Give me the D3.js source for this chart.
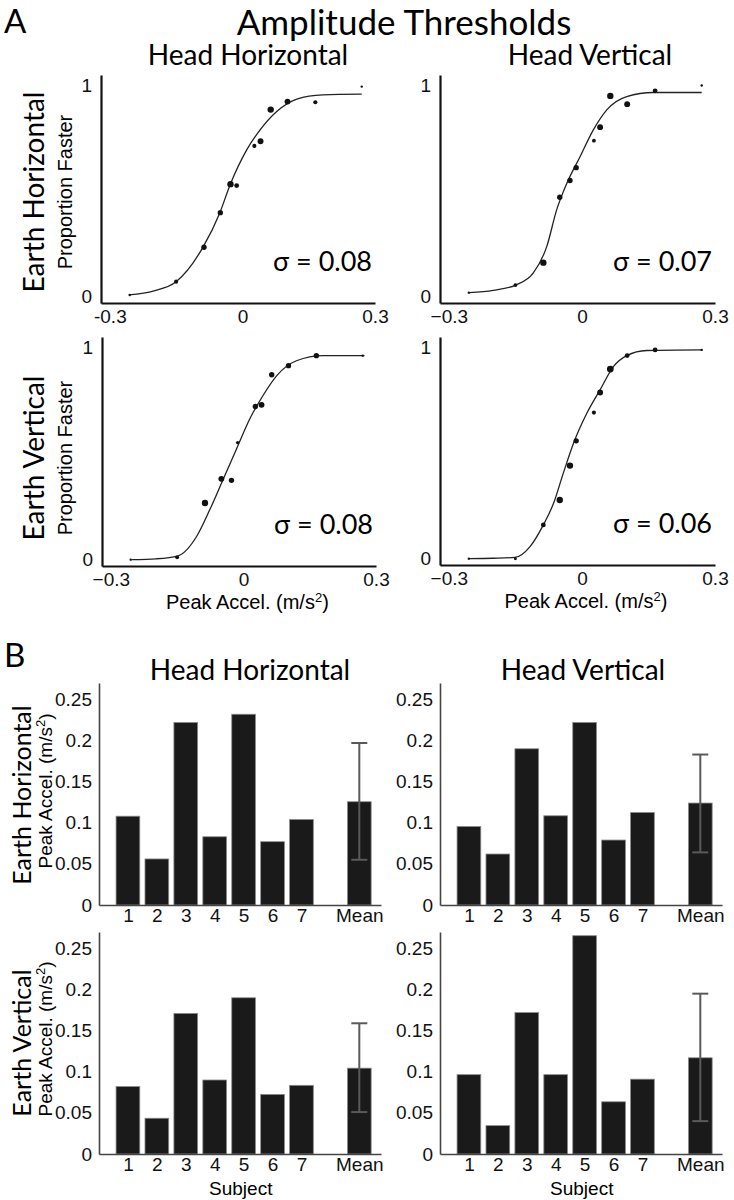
<!DOCTYPE html>
<html>
<head>
<meta charset="utf-8">
<script src="https://cdn.jsdelivr.net/npm/d3@7"></script>
<style>
  body { margin: 0; background: #fff; }
</style>
</head>
<body>
<div id="chart"></div>
<script>
// ---------- data ----------
// A: stimulus levels (peak accel, m/s^2) shared by the four conditions
var stimLevels = [-0.255, -0.15, -0.087, -0.05, -0.027, -0.013, 0.027, 0.041, 0.064, 0.102, 0.165, 0.27];

// proportion "faster" per stimulus level (HH = head horizontal, HV = head vertical,
// EH = earth horizontal, EV = earth vertical)
var propHHEH = [0.008, 0.071, 0.234, 0.398, 0.533, 0.526, 0.714, 0.736, 0.886, 0.924, 0.921, 0.995];
var propHVEH = [0.019, 0.055, 0.161, 0.471, 0.55, 0.611, 0.739, 0.803, 0.951, 0.912, 0.975, 1.0];
var propHHEV = [0.0, 0.011, 0.267, 0.381, 0.374, 0.552, 0.722, 0.73, 0.872, 0.915, 0.962, 0.962];
var propHVEV = [0.0, 0.0, 0.16, 0.278, 0.441, 0.558, 0.692, 0.787, 0.898, 0.962, 0.989, 0.989];

// trials per level (marker size)
var trialsHHEH = [2, 6, 10, 10, 14, 8, 6, 12, 14, 12, 6, 2];
var trialsHVEH = [2, 5, 14, 10, 10, 10, 5, 12, 14, 12, 8, 2];
var trialsHHEV = [2, 5, 14, 12, 10, 4, 10, 12, 10, 10, 10, 2];
var trialsHVEV = [2, 3, 8, 14, 14, 10, 6, 12, 16, 8, 8, 2];

// fitted psychometric curves [x, p]
var fitHHEH = [[-0.257, 0.008], [-0.2, 0.028], [-0.15, 0.071], [-0.0885, 0.237], [-0.051, 0.398], [-0.028, 0.529],
               [0.0097, 0.695], [0.04, 0.79], [0.0776, 0.877], [0.123, 0.936], [0.182, 0.956], [0.27, 0.959]];
var fitHVEH = [[-0.254, 0.019], [-0.2, 0.03], [-0.149, 0.055], [-0.11, 0.111], [-0.0794, 0.237], [-0.057, 0.411],
               [-0.034, 0.537], [-0.004, 0.664], [0.0257, 0.79], [0.056, 0.885], [0.101, 0.948], [0.161, 0.967], [0.27, 0.967]];
var fitHHEV = [[-0.252, 0.0], [-0.197, 0.004], [-0.148, 0.018], [-0.106, 0.109], [-0.076, 0.236], [-0.046, 0.378],
               [-0.016, 0.52], [0.014, 0.662], [0.044, 0.773], [0.075, 0.867], [0.12, 0.938], [0.18, 0.962], [0.274, 0.962]];
var fitHVEV = [[-0.255, 0.0], [-0.2, 0.002], [-0.151, 0.006], [-0.117, 0.057], [-0.087, 0.16], [-0.064, 0.262],
               [-0.042, 0.405], [-0.019, 0.547], [0.011, 0.689], [0.041, 0.8], [0.071, 0.91], [0.101, 0.962],
               [0.146, 0.986], [0.269, 0.989]];

var sigmaLabels = ["σ = 0.08", "σ = 0.07", "σ = 0.08", "σ = 0.06"];
var psyXTicks = [-0.3, 0, 0.3];
var psyXLabelsHyphen = ["-0.3", "0", "0.3"];
var psyXLabels = ["\u22120.3", "0", "0.3"];
var psyYTicks = [0, 1];

// B: per-subject thresholds (m/s^2)
var subjects = ["1", "2", "3", "4", "5", "6", "7"];
var threshHHEH = [0.108, 0.056, 0.222, 0.083, 0.232, 0.077, 0.104];
var threshHVEH = [0.0955, 0.062, 0.19, 0.1085, 0.222, 0.079, 0.1125];
var threshHHEV = [0.082, 0.0435, 0.171, 0.09, 0.19, 0.0725, 0.0835];
var threshHVEV = [0.0965, 0.0345, 0.172, 0.0965, 0.2655, 0.0635, 0.091];

// mean bars and error bar ends [mean, low, high]
var meanHHEH = [0.1256, 0.055, 0.197];
var meanHVEH = [0.124, 0.064, 0.183];
var meanHHEV = [0.1044, 0.051, 0.159];
var meanHVEV = [0.117, 0.04, 0.195];

var barYTicks = [0, 0.05, 0.1, 0.15, 0.2, 0.25];

// ---------- drawing ----------
var width = 734, height = 1200;
var titleFont = "Lato, 'Open Sans', sans-serif";
var labelFont = "'Liberation Sans', Arial, sans-serif";

var svg = d3.select("#chart")
  .append("svg")
    .attr("width", width)
    .attr("height", height);

// headings
svg.append("text").attr("x", 4).attr("y", 33)
  .style("font", "33px " + titleFont).text("A");
svg.append("text").attr("x", 404).attr("y", 35).attr("text-anchor", "middle")
  .style("font", "35px " + titleFont).text("Amplitude Thresholds");
svg.append("text").attr("x", 4).attr("y", 667)
  .style("font", "33px " + titleFont).text("B");

[[248, 65, "Head Horizontal"], [590, 65, "Head Vertical"],
 [250, 680, "Head Horizontal"], [583, 680, "Head Vertical"]].forEach(function(t) {
  svg.append("text").attr("x", t[0]).attr("y", t[1]).attr("text-anchor", "middle")
    .style("font", "28px " + titleFont).text(t[2]);
});

// rotated row labels
function vLabel(x, y, size, family, txt) {
  return svg.append("text")
    .attr("transform", "translate(" + x + "," + y + ") rotate(-90)")
    .attr("text-anchor", "middle")
    .style("font", size + "px " + family)
    .text(txt);
}
vLabel(44, 192, 28, titleFont, "Earth Horizontal");
vLabel(72, 192, 20, labelFont, "Proportion Faster");
vLabel(44, 458, 28, titleFont, "Earth Vertical");
vLabel(72, 458, 20, labelFont, "Proportion Faster");
vLabel(31, 795, 25, titleFont, "Earth Horizontal");
vLabel(31, 1043, 25, titleFont, "Earth Vertical");

function accelLabel(sel) {
  sel.text("Peak Accel. (m/s");
  sel.append("tspan").attr("baseline-shift", "super").style("font-size", "13px").text("2");
  sel.append("tspan").text(")");
}
accelLabel(vLabel(52, 791, 19, labelFont, ""));
accelLabel(vLabel(52, 1039, 19, labelFont, ""));

// ---------- A: psychometric panels ----------
var psyPanels = [
  {left: 101, top: 75, w: 274, h: 228, prop: propHHEH, trials: trialsHHEH, fit: fitHHEH, sigma: sigmaLabels[0], xl: psyXLabelsHyphen, xlabel: false},
  {left: 440, top: 75, w: 275, h: 228, prop: propHVEH, trials: trialsHVEH, fit: fitHVEH, sigma: sigmaLabels[1], xl: psyXLabels, xlabel: false},
  {left: 102, top: 337, w: 274, h: 229, prop: propHHEV, trials: trialsHHEV, fit: fitHHEV, sigma: sigmaLabels[2], xl: psyXLabels, xlabel: true},
  {left: 440, top: 337, w: 275, h: 228, prop: propHVEV, trials: trialsHVEV, fit: fitHVEV, sigma: sigmaLabels[3], xl: psyXLabels, xlabel: true}
];

var rScale = d3.scaleSqrt().domain([0, 16]).range([0, 3.4]);

psyPanels.forEach(function(p) {
  var g = svg.append("g").attr("transform", "translate(" + p.left + "," + p.top + ")");

  var x = d3.scaleLinear().domain([-0.32, 0.30]).range([0, p.w]);
  var y = d3.scaleLinear().domain([-0.03, 1.05]).range([p.h, 0]);

  var xAxis = g.append("g")
    .attr("transform", "translate(0," + p.h + ")")
    .call(d3.axisBottom(x).tickValues(psyXTicks)
      .tickFormat(function(d, i) { return p.xl[i]; })
      .tickSize(0).tickSizeOuter(0).tickPadding(7));
  var yAxis = g.append("g")
    .call(d3.axisLeft(y).tickValues(psyYTicks)
      .tickFormat(d3.format("d"))
      .tickSize(0).tickSizeOuter(0).tickPadding(9));
  [xAxis, yAxis].forEach(function(a) {
    a.select(".domain").attr("stroke", "#111").attr("stroke-width", 2.2);
    a.selectAll("text").style("font", "19px " + labelFont).attr("fill", "#111");
  });

  var line = d3.line()
    .x(function(d) { return x(d[0]); })
    .y(function(d) { return y(d[1]); })
    .curve(d3.curveMonotoneX);
  g.append("path").datum(p.fit)
    .attr("d", line)
    .attr("fill", "none")
    .attr("stroke", "#222")
    .attr("stroke-width", 1.3);

  g.selectAll("circle")
    .data(stimLevels.map(function(s, i) { return {x: s, p: p.prop[i], n: p.trials[i]}; }))
    .enter().append("circle")
      .attr("cx", function(d) { return x(d.x); })
      .attr("cy", function(d) { return y(d.p); })
      .attr("r", function(d) { return rScale(d.n); })
      .attr("fill", "#111");

  g.append("text")
    .attr("x", p.w - 3).attr("y", p.h - 32)
    .attr("text-anchor", "end")
    .style("font", "27px " + titleFont)
    .text(p.sigma);

  if (p.xlabel) {
    var t = g.append("text")
      .attr("x", x(0) + 4).attr("y", p.h + 43)
      .attr("text-anchor", "middle")
      .style("font", "20px " + labelFont);
    accelLabel(t);
  }
});

// ---------- B: threshold bar panels ----------
var barPanels = [
  {left: 99, right: 381, bottom: 905, vals: threshHHEH, mean: meanHHEH, xlabel: false},
  {left: 440, right: 722, bottom: 905, vals: threshHVEH, mean: meanHVEH, xlabel: false},
  {left: 99, right: 381, bottom: 1154, vals: threshHHEV, mean: meanHHEV, xlabel: true},
  {left: 440, right: 722, bottom: 1154, vals: threshHVEV, mean: meanHVEV, xlabel: true}
];

barPanels.forEach(function(p) {
  var h = 222;
  var g = svg.append("g").attr("transform", "translate(" + p.left + "," + (p.bottom - h) + ")");
  var w = p.right - p.left;

  var x = d3.scaleLinear().domain([0, 9.75]).range([0, w]);
  var y = d3.scaleLinear().domain([0, 0.27]).range([h, 0]);
  var bw = (x(1) - x(0)) * 0.82;

  var bars = p.vals.map(function(v, i) { return {pos: i + 1, v: v}; });
  bars.push({pos: 9, v: p.mean[0]});

  g.selectAll("rect")
    .data(bars)
    .enter().append("rect")
      .attr("x", function(d) { return x(d.pos) - bw / 2; })
      .attr("y", function(d) { return y(d.v); })
      .attr("width", bw)
      .attr("height", function(d) { return h - y(d.v); })
      .attr("fill", "#1a1a1a")
      .attr("stroke", "#8a8a8a")
      .attr("stroke-width", 0.8);

  // error bar on the mean
  var ex = x(9), cap = 8;
  var eg = g.append("g").attr("stroke", "#5a5a5a").attr("stroke-width", 2);
  eg.append("line").attr("x1", ex).attr("x2", ex).attr("y1", y(p.mean[1])).attr("y2", y(p.mean[2]));
  eg.append("line").attr("x1", ex - cap).attr("x2", ex + cap).attr("y1", y(p.mean[1])).attr("y2", y(p.mean[1]));
  eg.append("line").attr("x1", ex - cap).attr("x2", ex + cap).attr("y1", y(p.mean[2])).attr("y2", y(p.mean[2]));

  var xAxis = g.append("g")
    .attr("transform", "translate(0," + h + ")")
    .call(d3.axisBottom(x).tickValues([1, 2, 3, 4, 5, 6, 7, 9])
      .tickFormat(function(d) { return d === 9 ? "Mean" : subjects[d - 1]; })
      .tickSize(0).tickSizeOuter(0).tickPadding(3));
  var yAxis = g.append("g")
    .call(d3.axisLeft(y).tickValues(barYTicks)
      .tickFormat(function(d) { return d === 0 ? "0" : String(+d.toFixed(2)); })
      .tickSize(0).tickSizeOuter(0).tickPadding(7));
  [xAxis, yAxis].forEach(function(a) {
    a.select(".domain").attr("stroke", "#444").attr("stroke-width", 1.6);
    a.selectAll("text").style("font", "19px " + labelFont).attr("fill", "#111");
  });

  if (p.xlabel) {
    g.append("text")
      .attr("x", x(4.9)).attr("y", h + 41)
      .attr("text-anchor", "middle")
      .style("font", "19px " + labelFont)
      .text("Subject");
  }
});
</script>
</body>
</html>
